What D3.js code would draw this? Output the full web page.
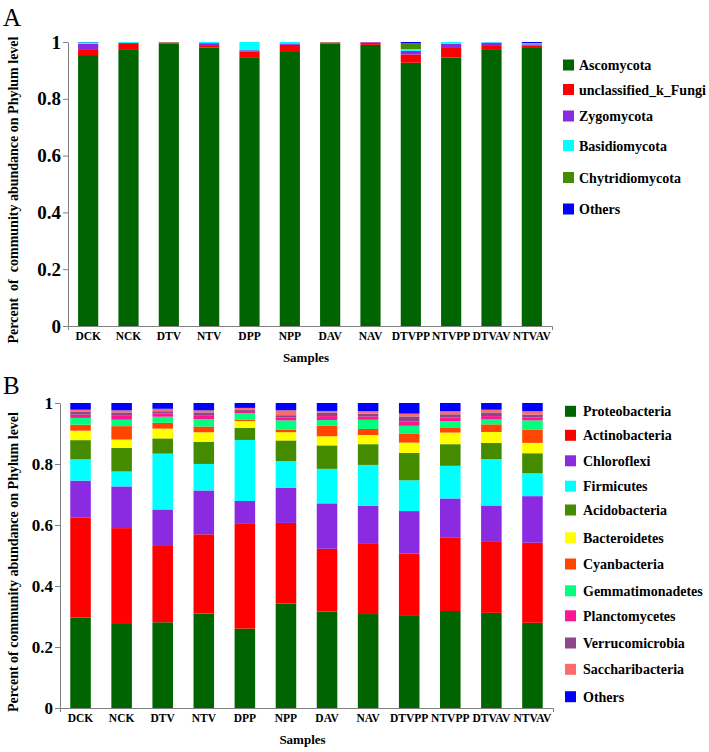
<!DOCTYPE html>
<html>
<head>
<meta charset="utf-8">
<script src="https://cdn.jsdelivr.net/npm/d3@7"></script>
<style>
  html, body { margin: 0; padding: 0; background: #fff; }
  text { font-family: "Liberation Serif", "Times New Roman", serif; }
</style>
</head>
<body>
<svg id="chart" width="709" height="752"></svg>
<script>
// ---------------- DATA ----------------
const samples = ["DCK","NCK","DTV","NTV","DPP","NPP","DAV","NAV","DTVPP","NTVPP","DTVAV","NTVAV"];
const yTickValues = [0, 0.2, 0.4, 0.6, 0.8, 1];
const yTickLabels = ["0", "0.2", "0.4", "0.6", "0.8", "1"];

// Panel A: fungi (bottom to top)
const fungiPhyla = ["Ascomycota","unclassified_k_Fungi","Zygomycota","Basidiomycota","Chytridiomycota","Others"];
const fungiColors = ["#006400","#ff0000","#8a2be2","#00ffff","#458b00","#0000ff"];
const ascomycota      = [0.954,0.972,0.994,0.981,0.944,0.968,0.995,0.990,0.927,0.945,0.972,0.979];
const unclassifiedK   = [0.018,0.024,0.005,0.008,0.023,0.022,0.004,0.008,0.029,0.034,0.017,0.008];
const zygomycota      = [0.022,0.001,0.000,0.007,0.004,0.005,0.000,0.002,0.013,0.015,0.009,0.005];
const basidiomycota   = [0.005,0.003,0.001,0.004,0.029,0.005,0.001,0.000,0.006,0.006,0.002,0.004];
const chytridiomycota = [0.000,0.000,0.000,0.000,0.000,0.000,0.000,0.000,0.020,0.000,0.000,0.000];
const fungiOthers     = [0.001,0.000,0.000,0.000,0.000,0.000,0.000,0.000,0.005,0.000,0.000,0.004];
const fungiSeries = [ascomycota, unclassifiedK, zygomycota, basidiomycota, chytridiomycota, fungiOthers];

// Panel B: bacteria (bottom to top)
const bactPhyla = ["Proteobacteria","Actinobacteria","Chloroflexi","Firmicutes","Acidobacteria","Bacteroidetes","Cyanbacteria","Gemmatimonadetes","Planctomycetes","Verrucomicrobia","Saccharibacteria","Others"];
const bactColors = ["#006400","#ff0000","#8a2be2","#00ffff","#458b00","#ffff00","#ff4500","#00ff7f","#ff1493","#8b4789","#ff6a6a","#0000ff"];
const proteobacteria   = [0.297,0.276,0.281,0.310,0.260,0.343,0.316,0.308,0.305,0.318,0.312,0.280];
const actinobacteria   = [0.328,0.315,0.253,0.260,0.343,0.265,0.206,0.230,0.202,0.240,0.235,0.263];
const chloroflexi      = [0.122,0.137,0.117,0.144,0.075,0.116,0.149,0.125,0.140,0.129,0.117,0.153];
const firmicutes       = [0.070,0.049,0.183,0.087,0.200,0.087,0.113,0.134,0.101,0.107,0.152,0.075];
const acidobacteria    = [0.063,0.078,0.050,0.073,0.040,0.068,0.077,0.068,0.090,0.071,0.053,0.066];
const bacteroidetes    = [0.031,0.027,0.032,0.031,0.022,0.027,0.030,0.030,0.034,0.038,0.036,0.034];
const cyanbacteria     = [0.020,0.044,0.019,0.019,0.005,0.009,0.034,0.020,0.030,0.015,0.025,0.044];
const gemmatimonadetes = [0.022,0.021,0.020,0.024,0.020,0.030,0.019,0.030,0.025,0.022,0.016,0.030];
const planctomycetes   = [0.011,0.013,0.011,0.011,0.008,0.009,0.013,0.011,0.015,0.012,0.011,0.009];
const verrucomicrobia  = [0.009,0.011,0.007,0.011,0.005,0.008,0.012,0.009,0.016,0.011,0.012,0.010];
const saccharibacteria = [0.007,0.007,0.008,0.007,0.005,0.016,0.005,0.008,0.009,0.010,0.009,0.011];
const bactOthers       = [0.022,0.024,0.019,0.024,0.016,0.024,0.026,0.027,0.035,0.027,0.022,0.027];
const bactSeries = [proteobacteria, actinobacteria, chloroflexi, firmicutes, acidobacteria, bacteroidetes, cyanbacteria, gemmatimonadetes, planctomycetes, verrucomicrobia, saccharibacteria, bactOthers];

// ---------------- DRAW ----------------
const svg = d3.select("#chart");
const axisColor = "#7f7f7f";

function panel(cfg) {
  const rows = samples.map((s, i) => {
    const r = { sample: s };
    cfg.keys.forEach((k, j) => r[k] = cfg.series[j][i]);
    return r;
  });
  const stacked = d3.stack().keys(cfg.keys).offset(d3.stackOffsetExpand)(rows);

  const x = d3.scaleBand().domain(samples).range([cfg.x0, cfg.x1]).paddingInner(0.5).paddingOuter(0.25);
  const y = d3.scaleLinear().domain([0, 1]).range([cfg.yBottom, cfg.yTop]);
  const color = d3.scaleOrdinal().domain(cfg.keys).range(cfg.colors);

  const g = svg.append("g");
  g.selectAll("g.layer").data(stacked).join("g")
    .attr("class", "layer")
    .attr("fill", d => color(d.key))
    .selectAll("rect").data(d => d).join("rect")
    .attr("x", d => x(d.data.sample))
    .attr("width", x.bandwidth())
    .attr("y", d => y(d[1]))
    .attr("height", d => Math.max(0, y(d[0]) - y(d[1])));

  // y axis
  const yAxis = g.append("g").attr("transform", `translate(${cfg.x0},0)`)
    .call(d3.axisLeft(y).tickValues(yTickValues).tickFormat((d, i) => yTickLabels[i]).tickSize(5).tickSizeOuter(0).tickPadding(2));
  yAxis.selectAll("path, line").attr("stroke", axisColor);
  yAxis.selectAll("text").attr("font-size", cfg.tickFont).attr("font-weight", "bold").attr("fill", "#000")
    .attr("font-family", "Liberation Serif, serif");

  // x axis
  const xAxis = g.append("g").attr("transform", `translate(0,${cfg.yBottom})`)
    .call(d3.axisBottom(x).tickSizeInner(0).tickSizeOuter(4).tickPadding(6));
  xAxis.selectAll("path, line").attr("stroke", axisColor);
  xAxis.selectAll("text").attr("font-size", 11.5).attr("font-weight", "bold").attr("fill", "#000")
    .attr("font-family", "Liberation Serif, serif");

  // axis titles
  g.append("text")
    .attr("x", (cfg.x0 + cfg.x1) / 2 - 4).attr("y", cfg.yBottom + 36)
    .attr("text-anchor", "middle").attr("font-size", 13).attr("font-weight", "bold")
    .text("Samples");
  g.append("text")
    .attr("transform", `translate(${cfg.titleX},${cfg.titleY}) rotate(-90)`)
    .attr("text-anchor", "middle").attr("font-size", 14).attr("font-weight", "bold")
    .style("white-space", "pre")
    .text(cfg.yTitle);

  // panel letter
  g.append("text").attr("x", 3).attr("y", cfg.letterY)
    .attr("font-size", 25).text(cfg.letter);

  // legend
  const lg = g.append("g");
  cfg.keys.forEach((k, i) => {
    const cy = cfg.legendY[i];
    lg.append("rect").attr("x", cfg.legendX).attr("y", cy - 5.5)
      .attr("width", 11).attr("height", 11).attr("fill", color(k));
    lg.append("text").attr("x", cfg.legendX + cfg.legendTextDx).attr("y", cy + 5)
      .attr("font-size", 14).attr("font-weight", "bold").text(k);
  });
}

panel({
  keys: fungiPhyla, colors: fungiColors, series: fungiSeries,
  x0: 68, x1: 552, yBottom: 326, yTop: 42,
  titleX: 18, titleY: 190, yTitle: "Percent  of  community abundance on Phylum level",
  tickFont: 19,
  letter: "A", letterY: 26,
  legendX: 563, legendTextDx: 16,
  legendY: [65, 89.5, 116, 145.5, 177.5, 209]
});

panel({
  keys: bactPhyla, colors: bactColors, series: bactSeries,
  x0: 60, x1: 553, yBottom: 708, yTop: 403,
  titleX: 18, titleY: 562, yTitle: "Percent of community abundance on Phylum level",
  tickFont: 17,
  letter: "B", letterY: 394,
  legendX: 565, legendTextDx: 18,
  legendY: [411.3, 435.3, 460.8, 486.2, 510, 537.8, 564, 590.8, 615.8, 643, 669.3, 696.7]
});
</script>
</body>
</html>
